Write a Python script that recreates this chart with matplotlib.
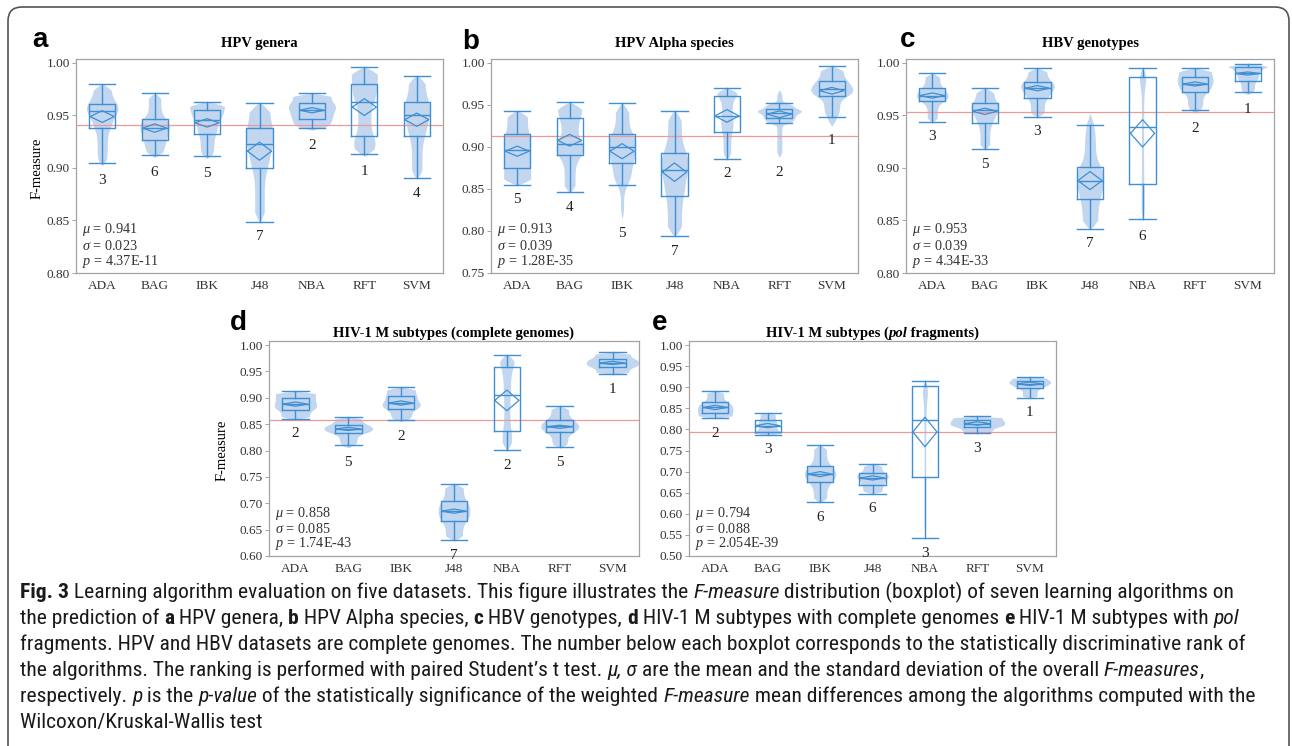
import numpy as np
import matplotlib
matplotlib.use('Agg')
import matplotlib.pyplot as plt
from matplotlib import font_manager
from matplotlib.patches import FancyBboxPatch
from matplotlib.transforms import IdentityTransform

algos = ['ADA', 'BAG', 'IBK', 'J48', 'NBA', 'RFT', 'SVM']

# a - HPV genera
a_wlo = [0.905, 0.912, 0.911, 0.849, 0.938, 0.913, 0.890]
a_q1 = [0.938, 0.927, 0.932, 0.900, 0.947, 0.930, 0.930]
a_med = [0.954, 0.938, 0.946, 0.923, 0.955, 0.963, 0.950]
a_q3 = [0.961, 0.947, 0.955, 0.938, 0.962, 0.980, 0.963]
a_whi = [0.980, 0.971, 0.963, 0.962, 0.971, 0.996, 0.988]
a_mean = [0.949, 0.938, 0.943, 0.916, 0.955, 0.958, 0.946]
a_ci = [0.0056, 0.004, 0.004, 0.0086, 0.0025, 0.008, 0.0063]
a_vlo = [0.902, 0.910, 0.909, 0.849, 0.936, 0.911, 0.890]
a_vhi = [0.980, 0.971, 0.963, 0.962, 0.971, 0.996, 0.988]
a_vw = [0.30, 0.28, 0.34, 0.26, 0.45, 0.25, 0.25]
a_rank = [3, 6, 5, 7, 2, 1, 4]

# b - HPV Alpha species
b_wlo = [0.855, 0.846, 0.855, 0.794, 0.886, 0.928, 0.936]
b_q1 = [0.875, 0.891, 0.881, 0.842, 0.918, 0.935, 0.961]
b_med = [0.896, 0.903, 0.900, 0.873, 0.937, 0.941, 0.969]
b_q3 = [0.916, 0.934, 0.916, 0.893, 0.961, 0.945, 0.979]
b_whi = [0.943, 0.953, 0.952, 0.943, 0.970, 0.952, 0.996]
b_mean = [0.895, 0.908, 0.895, 0.870, 0.937, 0.939, 0.967]
b_ci = [0.006, 0.007, 0.009, 0.011, 0.0075, 0.004, 0.004]
b_vlo = [0.855, 0.846, 0.815, 0.794, 0.886, 0.888, 0.925]
b_vhi = [0.943, 0.953, 0.952, 0.943, 0.970, 0.968, 0.996]
b_vw = [0.26, 0.26, 0.26, 0.26, 0.24, 0.42, 0.40]
b_rank = [5, 4, 5, 7, 2, 2, 1]

# c - HBV genotypes
c_wlo = [0.944, 0.918, 0.949, 0.842, 0.851, 0.955, 0.972]
c_q1 = [0.964, 0.943, 0.967, 0.870, 0.885, 0.972, 0.983]
c_med = [0.969, 0.955, 0.976, 0.888, 0.939, 0.980, 0.990]
c_q3 = [0.976, 0.962, 0.982, 0.901, 0.987, 0.987, 0.996]
c_whi = [0.990, 0.976, 0.995, 0.941, 0.995, 0.995, 0.999]
c_mean = [0.969, 0.954, 0.976, 0.888, 0.933, 0.980, 0.990]
c_ci = [0.0025, 0.003, 0.0025, 0.0086, 0.013, 0.002, 0.0015]
c_vlo = [0.944, 0.918, 0.949, 0.842, 0.849, 0.952, 0.970]
c_vhi = [0.990, 0.976, 0.995, 0.952, 0.995, 0.995, 0.999]
c_vw = [0.30, 0.26, 0.32, 0.26, 0.10, 0.34, 0.45]
c_rank = [3, 5, 3, 7, 6, 2, 1]

# d - HIV-1 M subtypes (complete genomes)
d_wlo = [0.860, 0.810, 0.857, 0.630, 0.801, 0.806, 0.945]
d_q1 = [0.877, 0.833, 0.879, 0.666, 0.837, 0.835, 0.958]
d_med = [0.888, 0.841, 0.890, 0.685, 0.905, 0.846, 0.966]
d_q3 = [0.900, 0.849, 0.904, 0.704, 0.959, 0.858, 0.974]
d_whi = [0.912, 0.864, 0.920, 0.737, 0.982, 0.884, 0.986]
d_mean = [0.888, 0.841, 0.890, 0.685, 0.895, 0.845, 0.966]
d_ci = [0.004, 0.003, 0.004, 0.004, 0.0195, 0.003, 0.003]
d_vlo = [0.860, 0.805, 0.855, 0.630, 0.800, 0.805, 0.945]
d_vhi = [0.912, 0.864, 0.920, 0.737, 0.982, 0.884, 0.986]
d_vw = [0.40, 0.46, 0.36, 0.30, 0.16, 0.36, 0.50]
d_rank = [2, 5, 2, 7, 2, 5, 1]

# e - HIV-1 M subtypes (pol fragments)
e_wlo = [0.827, 0.787, 0.627, 0.648, 0.542, 0.792, 0.875]
e_q1 = [0.840, 0.795, 0.675, 0.669, 0.688, 0.806, 0.898]
e_med = [0.852, 0.809, 0.694, 0.685, 0.823, 0.814, 0.908]
e_q3 = [0.865, 0.823, 0.713, 0.696, 0.904, 0.822, 0.915]
e_whi = [0.891, 0.840, 0.763, 0.718, 0.914, 0.831, 0.925]
e_mean = [0.852, 0.809, 0.694, 0.685, 0.794, 0.814, 0.908]
e_ci = [0.005, 0.005, 0.006, 0.005, 0.035, 0.004, 0.004]
e_vlo = [0.827, 0.787, 0.627, 0.648, 0.542, 0.790, 0.875]
e_vhi = [0.891, 0.840, 0.763, 0.718, 0.914, 0.831, 0.925]
e_vw = [0.34, 0.30, 0.30, 0.30, 0.08, 0.52, 0.40]
e_rank = [2, 3, 6, 6, 3, 3, 1]

mus = [0.941, 0.913, 0.953, 0.858, 0.794]
sigmas = ['0.023', '0.039', '0.039', '0.085', '0.088']
pvals = ['4.37E-11', '1.28E-35', '4.34E-33', '1.74E-43', '2.054E-39']
titles = ['HPV genera', 'HPV Alpha species', 'HBV genotypes',
          'HIV-1 M subtypes (complete genomes)', None]
letters = ['a', 'b', 'c', 'd', 'e']
ylows = [0.80, 0.75, 0.80, 0.60, 0.50]

BLUE = '#3f8fd2'
VIOL = '#c2d6f0'
RED = '#eb9a9a'
GREY = '#a3a3a3'
SERIF = 'Liberation Serif'

# caption font: a condensed sans if one is installed
CAPF, CAPSTRETCH = 'Liberation Sans', 'normal'
_entries = font_manager.fontManager.ttflist
for fam in ['Liberation Sans Narrow', 'Roboto Condensed', 'Open Sans Condensed',
            'Noto Sans Condensed', 'Open Sans', 'Noto Sans', 'Roboto', 'DejaVu Sans']:
    hit = [f for f in _entries if f.name == fam and
           (fam.endswith(('Narrow', 'Condensed')) or 'condensed' in str(f.stretch)
            or 'Condensed' in f.fname or 'Narrow' in f.fname)]
    if hit:
        CAPF = fam
        st = str(hit[0].stretch)
        CAPSTRETCH = st if 'condensed' in st else 'normal'
        break

plt.rcParams['mathtext.fontset'] = 'custom'
plt.rcParams['mathtext.rm'] = SERIF
plt.rcParams['mathtext.it'] = SERIF + ':italic'

W, H = 1292, 746
fig = plt.figure(figsize=(W / 100, H / 100), dpi=100)


def rect(l, t, r, b):
    return [l / W, 1 - b / H, (r - l) / W, (b - t) / H]


def violin(ax, x, wlo, q1, med, q3, whi, vlo, vhi, vw):
    # rough density shape from the quartiles, smoothed
    y = np.linspace(vlo, vhi, 200)
    edges = [wlo, q1, med, q3, whi]
    minw = (whi - wlo) / 20
    dens = np.zeros_like(y)
    for k in range(4):
        m = (y >= edges[k]) & (y <= edges[k + 1])
        dens[m] = np.maximum(dens[m], 0.25 / max(edges[k + 1] - edges[k], minw))
    dens[(y < wlo) | (y > whi)] = 0.1 * dens.max()
    step = y[1] - y[0]
    sig = max((whi - wlo) / 12, step)
    n = int(4 * sig / step) + 1
    ker = np.exp(-0.5 * (np.arange(-n, n + 1) * step / sig) ** 2)
    sm = np.convolve(np.pad(dens, n, mode='edge'), ker, mode='same')[n:-n]
    taper = np.clip(np.minimum(y - vlo, vhi - y) / (0.08 * (vhi - vlo)), 0, 1) ** 0.7
    hw = vw * sm / sm.max() * taper
    ax.fill_betweenx(y, x - hw, x + hw, color=VIOL, lw=0, zorder=1)


rects = [rect(76, 59, 443, 273), rect(491, 59, 858, 273), rect(906, 59, 1274, 273),
         rect(269, 341, 639, 556), rect(689, 341, 1056, 556)]
panels = [
    (a_wlo, a_q1, a_med, a_q3, a_whi, a_mean, a_ci, a_vlo, a_vhi, a_vw, a_rank),
    (b_wlo, b_q1, b_med, b_q3, b_whi, b_mean, b_ci, b_vlo, b_vhi, b_vw, b_rank),
    (c_wlo, c_q1, c_med, c_q3, c_whi, c_mean, c_ci, c_vlo, c_vhi, c_vw, c_rank),
    (d_wlo, d_q1, d_med, d_q3, d_whi, d_mean, d_ci, d_vlo, d_vhi, d_vw, d_rank),
    (e_wlo, e_q1, e_med, e_q3, e_whi, e_mean, e_ci, e_vlo, e_vhi, e_vw, e_rank),
]
letter_pos = [(32, 47), (462, 49), (900, 47), (230, 330), (652, 330)]
title_y = [43, 43, 43, 333, 333]
pos = np.arange(1, 8)

for k, (wlo, q1, med, q3, whi, mean, ci, vlo, vhi, vw, rank) in enumerate(panels):
    ax = fig.add_axes(rects[k])
    for i in range(7):
        violin(ax, pos[i], wlo[i], q1[i], med[i], q3[i], whi[i], vlo[i], vhi[i], vw[i])
    ax.axhline(mus[k], color=RED, lw=0.9, zorder=1.5)
    stats = [dict(whislo=wlo[i], q1=q1[i], med=med[i], q3=q3[i], whishi=whi[i], fliers=[])
             for i in range(7)]
    lp = dict(color=BLUE, lw=1.0)
    ax.bxp(stats, positions=pos, widths=0.5, capwidths=0.5, showfliers=False,
           boxprops=lp, whiskerprops=lp, capprops=lp, medianprops=lp,
           manage_ticks=False, zorder=2)
    for i in range(7):
        m, h = mean[i], ci[i]
        ax.plot([pos[i] - 0.23, pos[i], pos[i] + 0.23, pos[i], pos[i] - 0.23],
                [m, m + h, m, m - h, m], color=BLUE, lw=0.9, zorder=3)
        ax.annotate(str(rank[i]), xy=(pos[i], min(wlo[i], vlo[i])), xytext=(0, -15),
                    textcoords='offset pixels', ha='center', va='center',
                    fontsize=11, family=SERIF, color='#222222')
    ax.set_xlim(0.5, 7.5)
    ax.set_ylim(ylows[k], 1.0 + 4 * (1.0 - ylows[k]) / 210)
    ticks = np.arange(ylows[k], 1.0001, 0.05)
    ax.set_yticks(ticks)
    ax.set_yticklabels(['%.2f' % v for v in ticks])
    ax.set_xticks(pos)
    ax.set_xticklabels(algos)
    ax.tick_params(axis='y', length=3, width=0.7, color=GREY, pad=1.5)
    ax.tick_params(axis='x', length=0, pad=5)
    for lab in ax.get_xticklabels() + ax.get_yticklabels():
        lab.set_family(SERIF)
        lab.set_fontsize(9.5)
        lab.set_color('#333333')
    for sp in ax.spines.values():
        sp.set_color(GREY)
        sp.set_linewidth(0.9)
    txt = [r'$\mu$ = %.3f' % mus[k], r'$\sigma$ = ' + sigmas[k], r'$p$ = ' + pvals[k]]
    for j, off in enumerate([43, 27, 12]):
        ax.annotate(txt[j], xy=(0, 0), xycoords='axes fraction', xytext=(6, off),
                    textcoords='offset pixels', ha='left', va='center',
                    fontsize=10.3, family=SERIF, color='#333333')
    lx, ly = letter_pos[k]
    fig.text(lx / W, 1 - ly / H, letters[k], fontsize=20, fontweight='bold',
             family='Liberation Sans', va='baseline', ha='left')

for k in range(4):
    r = rects[k]
    fig.text(r[0] + r[2] / 2, 1 - title_y[k] / H, titles[k], ha='center', va='center',
             fontsize=10.5, fontweight='bold', family=SERIF)

fig.text(37 / W, 1 - 168 / H, 'F-measure', rotation=90, ha='center', va='center',
         fontsize=10.5, family=SERIF)
fig.text(222 / W, 1 - 450 / H, 'F-measure', rotation=90, ha='center', va='center',
         fontsize=10.5, family=SERIF)

renderer = fig.canvas.get_renderer()


def run_width(s, **kw):
    t1 = fig.text(0, 0, '|' + s + '|', **kw)
    t2 = fig.text(0, 0, '||', **kw)
    w = t1.get_window_extent(renderer).width - t2.get_window_extent(renderer).width
    t1.remove()
    t2.remove()
    return w


def draw_runs(x, y, runs, ha='left'):
    widths = [run_width(s, **st) for s, st in runs]
    x0 = x - sum(widths) / 2 if ha == 'center' else x
    for (s, st), w in zip(runs, widths):
        fig.text(x0 / W, 1 - y / H, s, va='baseline', ha='left', **st)
        x0 += w


# title e with italic "pol"
tb = dict(family=SERIF, fontweight='bold', fontsize=10.5)
tbi = dict(family=SERIF, fontweight='bold', fontstyle='italic', fontsize=10.5)
r = rects[4]
draw_runs((r[0] + r[2] / 2) * W, title_y[4] + 4,
          [('HIV-1 M subtypes (', tb), ('pol', tbi), (' fragments)', tb)], ha='center')

# caption
R = dict(family=CAPF, fontstretch=CAPSTRETCH)
B = dict(family=CAPF, fontstretch=CAPSTRETCH, fontweight='bold')
I = dict(family=CAPF, fontstretch=CAPSTRETCH, fontstyle='italic')
cap_lines = [
    [('Fig. 3', B), (' Learning algorithm evaluation on five datasets. This figure illustrates the ', R),
     ('F-measure', I), (' distribution (boxplot) of seven learning algorithms on', R)],
    [('the prediction of ', R), ('a', B), (' HPV genera, ', R), ('b', B), (' HPV Alpha species, ', R),
     ('c', B), (' HBV genotypes, ', R), ('d', B), (' HIV-1 M subtypes with complete genomes ', R),
     ('e', B), (' HIV-1 M subtypes with ', R), ('pol', I)],
    [('fragments. HPV and HBV datasets are complete genomes. The number below each boxplot '
      'corresponds to the statistically discriminative rank of', R)],
    [('the algorithms. The ranking is performed with paired Student\u2019s t test. ', R), ('\u03bc, \u03c3', I),
     (' are the mean and the standard deviation of the overall ', R), ('F-measures', I), (',', R)],
    [('respectively. ', R), ('p', I), (' is the ', R), ('p-value', I),
     (' of the statistically significance of the weighted ', R), ('F-measure', I),
     (' mean differences among the algorithms computed with the', R)],
    [('Wilcoxon/Kruskal-Wallis test', R)],
]
line_ends = [1268, 1272, 1257, 1247, 1275, 262]
base = 10.0
scales = []
for line, end in zip(cap_lines, line_ends):
    w = sum(run_width(s, fontsize=base, **st) for s, st in line)
    scales.append((end - 20) / w)
csize = base * min(scales)
for j, line in enumerate(cap_lines):
    runs = [(s, dict(st, fontsize=csize, color='#1a1a1a')) for s, st in line]
    draw_runs(20, 598 + 26 * j, runs)

border = FancyBboxPatch((8, -40), 1281, 779, boxstyle='round,pad=0,rounding_size=14',
                        transform=IdentityTransform(), fill=False, ec='#555555', lw=1.2)
fig.add_artist(border)

fig.savefig('out.png', dpi=100)
